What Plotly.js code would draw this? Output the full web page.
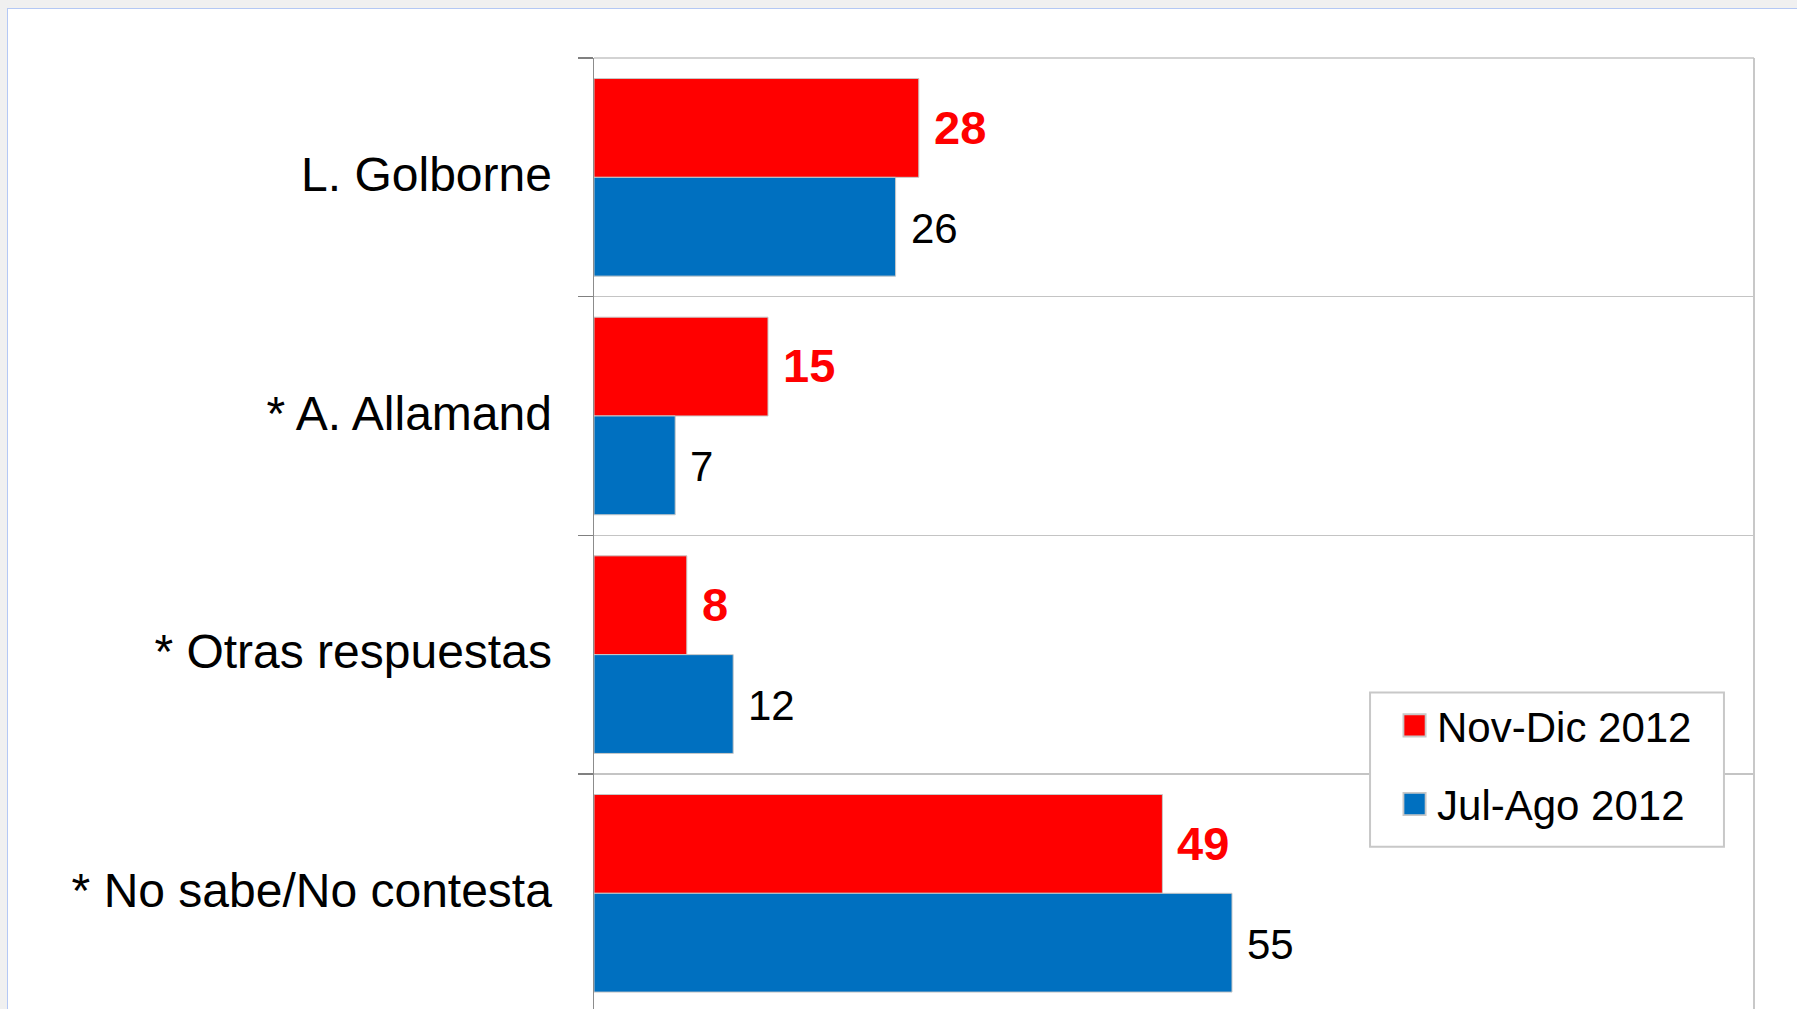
<!DOCTYPE html>
<html>
<head>
<meta charset="utf-8">
<script src="https://cdn.plot.ly/plotly-3.0.1.min.js"></script>
<style>
  html, body { margin: 0; padding: 0; background: #f0f0f0; overflow: hidden; width: 1797px; height: 1009px; }
  #card { position: absolute; left: 7px; top: 8px; width: 1790px; height: 1001px; background: #ffffff;
          border-left: 1px solid #b4c8f4; border-top: 1px solid #b4c8f4; }
  #chart { width: 1790px; height: 1001px; }
</style>
</head>
<body>
<div id="card"><div id="chart"></div></div>
<script>
// ---- data ----
const categories = ['L. Golborne', '* A. Allamand', '* Otras respuestas', '* No sabe/No contesta'];
const novDic2012 = [28, 15, 8, 49];
const julAgo2012 = [26, 7, 12, 55];
const seriesNames = ['Nov-Dic 2012', 'Jul-Ago 2012'];

const FONT = 'Liberation Sans, Arial, Helvetica, sans-serif';
const RED = '#ff0000';
const BLUE = '#0070c0';

const traces = [
  {
    type: 'bar', orientation: 'h', name: seriesNames[0], legendgroup: 'a',
    y: categories, x: novDic2012,
    marker: { color: RED, line: { color: '#c8c8c8', width: 1 } },
    hoverinfo: 'none', textposition: 'none'
  },
  {
    type: 'bar', orientation: 'h', name: seriesNames[1], legendgroup: 'b',
    y: categories, x: julAgo2012,
    marker: { color: BLUE, line: { color: '#c8c8c8', width: 1 } },
    hoverinfo: 'none', textposition: 'none'
  }
];

const annotations = [];
categories.forEach((c, i) => {
  annotations.push({
    x: novDic2012[i], y: c, xref: 'x', yref: 'y', showarrow: false,
    xanchor: 'left', yanchor: 'middle', xshift: 13, yshift: 50,
    text: String(novDic2012[i]),
    font: { family: FONT, size: 47, color: RED, weight: 'bold' }
  });
  annotations.push({
    x: julAgo2012[i], y: c, xref: 'x', yref: 'y', showarrow: false,
    xanchor: 'left', yanchor: 'middle', xshift: 13, yshift: -51,
    text: String(julAgo2012[i]),
    font: { family: FONT, size: 42, color: '#000000' }
  });
});

const layout = {
  width: 1790, height: 1001,
  margin: { l: 586, r: 44, t: 49, b: 0, pad: 0 },
  paper_bgcolor: '#ffffff', plot_bgcolor: '#ffffff',
  font: { family: FONT, color: '#000000' },
  barmode: 'group', bargap: 0.172, bargroupgap: 0,
  showlegend: true,
  legend: {
    x: 0.669, xanchor: 'left', y: 0.3345, yanchor: 'top',
    bgcolor: 'rgba(0,0,0,0)', borderwidth: 0,
    font: { family: FONT, size: 42, color: '#000000' },
    traceorder: 'grouped', tracegroupgap: 21,
    itemwidth: 57
  },
  xaxis: {
    range: [0, 100], showgrid: false, zeroline: false, showline: false,
    showticklabels: false, ticks: '', fixedrange: true
  },
  yaxis: {
    type: 'category', categoryorder: 'array', categoryarray: categories,
    range: [3.489, -0.5], tickson: 'boundaries',
    showgrid: true, gridcolor: '#c4c4c4', gridwidth: 1.5,
    showline: true, linecolor: '#8c8c8c', linewidth: 1.5,
    ticks: 'outside', ticklen: 15, tickwidth: 1.5, tickcolor: '#808080',
    ticklabelstandoff: 31, ticklabelshift: 3,
    tickfont: { family: FONT, size: 48, color: '#000000' },
    fixedrange: true
  },
  shapes: [
    { type: 'line', xref: 'paper', yref: 'paper', x0: 1, x1: 1, y0: 0, y1: 1,
      line: { color: '#c8c8c8', width: 2 } },
    { type: 'line', xref: 'paper', yref: 'paper', x0: 0, x1: 1, y0: 1, y1: 1,
      line: { color: '#c4c4c4', width: 1.5 } },
    // legend frame
    { type: 'rect', xref: 'paper', yref: 'paper', layer: 'above',
      x0: 0.669, x1: 0.9741, y0: 0.1714, y1: 0.3335,
      fillcolor: '#ffffff', line: { color: '#c8c8c8', width: 2 } }
  ],
  annotations: annotations
};

Plotly.newPlot('chart', traces, layout, { displayModeBar: false, staticPlot: true }).then(function (gd) {
  // enlarge the legend swatches to match the reference's larger squares
  gd.querySelectorAll('.legend .legendpoints path').forEach(function (p) {
    var t = p.getAttribute('transform') || '';
    p.setAttribute('transform', t + ' translate(11,0) scale(1.85)');
  });
});
</script>
</body>
</html>
